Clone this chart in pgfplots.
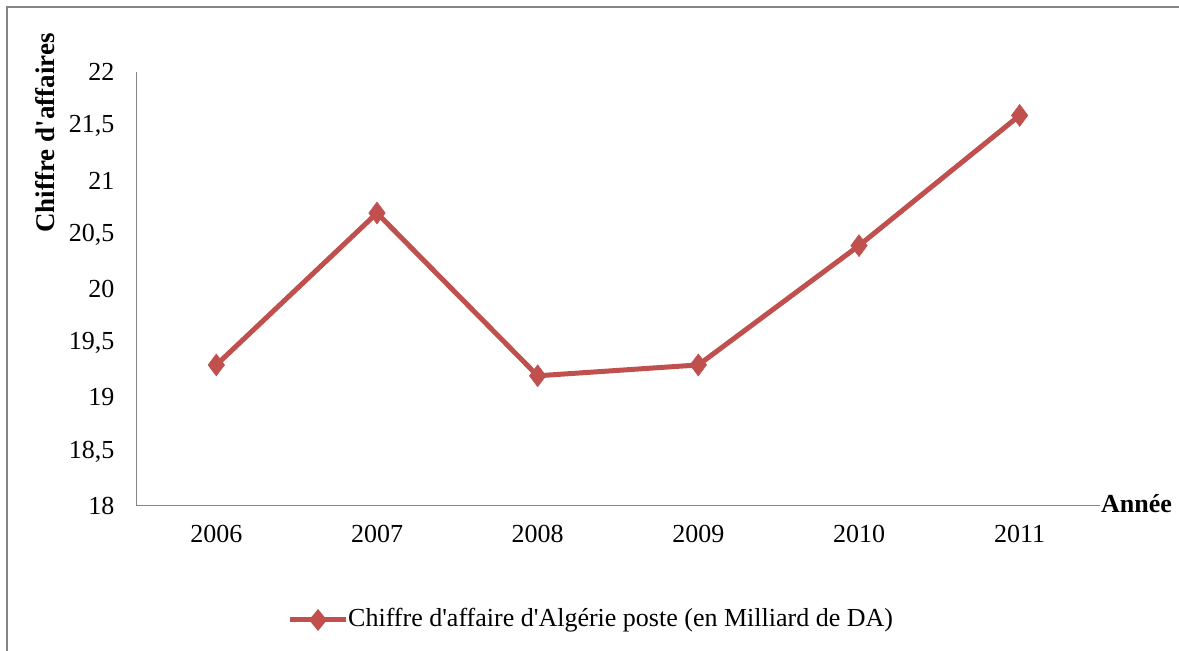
\documentclass[border=0pt]{standalone}
\usepackage{fontspec}
\setmainfont{Liberation Serif}
\usepackage{pgfplots}
\pgfplotsset{compat=1.18}
\definecolor{exred}{HTML}{C0504D}
\definecolor{axgray}{HTML}{868686}
\newcommand{\q}{\textquotesingle}
\begin{document}
\begin{tikzpicture}[x=1pt,y=1pt]
\path[use as bounding box] (0,0) rectangle (1179,651);
\draw[axgray,line width=1.5pt] (7,0) -- (7,644) -- (1179,644);
\begin{axis}[
  at={(136pt,145pt)}, anchor=south west,
  scale only axis, width=964pt, height=434pt,
  xmin=-0.5, xmax=5.5, ymin=18, ymax=22,
  xtick={0,1,2,3,4,5},
  xticklabels={2006,2007,2008,2009,2010,2011},
  ytick={18,18.5,19,19.5,20,20.5,21,21.5,22},
  yticklabels={18,{18,5},19,{19,5},20,{20,5},21,{21,5},22},
  axis x line*=bottom, axis y line*=left,
  axis line style={axgray,line width=1pt,-},
  major tick length=0pt,
  tick label style={font=\fontsize{26}{30}\selectfont},
  xticklabel style={yshift=-16pt},
  yticklabel style={xshift=-18pt},
  clip=false,
]
\addplot[exred, line width=5pt, mark=diamond*, mark size=11pt, mark options={line width=0.5pt}]
  coordinates {(0,19.3) (1,20.7) (2,19.2) (3,19.3) (4,20.4) (5,21.6)};
\end{axis}
\node[rotate=90, font=\fontsize{27}{31}\selectfont\bfseries] at (45,518) {Chiffre d\q affaires};
\node[anchor=base west, font=\fontsize{26}{30}\selectfont\bfseries, inner sep=0pt] at (1101,138) {Année};
\draw[exred, line width=5pt] (290,31) -- (346,31);
\path[fill=exred] (318,42) -- (327,31) -- (318,20) -- (309,31) -- cycle;
\node[anchor=west, font=\fontsize{26}{30}\selectfont, inner sep=0pt] at (348,31) {Chiffre d\q affaire d\q Algérie poste (en Milliard de DA)};
\end{tikzpicture}
\end{document}
